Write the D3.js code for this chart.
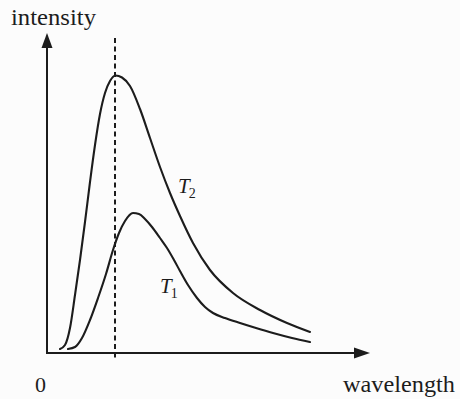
<!DOCTYPE html>
<html>
<head>
<meta charset="utf-8">
<script src="https://cdn.jsdelivr.net/npm/d3@7"></script>
<style>
  html, body { margin: 0; padding: 0; background: #fcfcfc; }
  svg { display: block; }
</style>
</head>
<body>
<div id="chart"></div>
<script>
// ---- data (arbitrary units) ----
const wavelengthT2 = [1.3, 1.8, 2.3, 2.8, 3.3, 3.8, 4.3, 4.8, 5.3, 5.8, 6.3, 6.85, 7.5, 8.3, 9.3, 10.3, 11.3, 12.3, 13.3, 14.6, 16.3, 18.6, 21.3, 24.0, 26.3];
const intensityT2  = [0.4, 0.8, 2.5, 5.8, 9.3, 13.1, 17.1, 20.8, 23.9, 26.0, 27.2, 27.75, 27.55, 26.7, 24.4, 21.5, 18.6, 16.0, 13.7, 11.0, 8.3, 6.0, 4.3, 3.0, 2.1];
const wavelengthT1 = [2.1, 2.8, 3.5, 4.3, 5.1, 5.9, 6.6, 7.2, 7.8, 8.6, 9.2, 9.8, 10.5, 11.3, 12.0, 12.7, 13.3, 14.1, 15.0, 15.8, 16.6, 17.8, 19.3, 20.9, 22.6, 24.5, 26.3];
const intensityT1  = [0.4, 0.6, 1.5, 3.3, 5.5, 7.9, 10.3, 12.0, 13.2, 14.0, 13.9, 13.4, 12.6, 11.5, 10.5, 9.3, 8.2, 6.8, 5.5, 4.6, 4.0, 3.5, 3.0, 2.5, 2.0, 1.5, 1.1];
const peakWavelength = 6.8;
const peakLineExtent = [-0.7, 31.5];
const curveLabels = [
  { name: "T", sub: "2", x: 13.1, y: 16.0 },
  { name: "T", sub: "1", x: 11.3, y: 6.0 }
];
const axisTitles = { y: "intensity", x: "wavelength", origin: "0" };

// ---- layout ----
const W = 460, H = 399;
const x = d3.scaleLinear().domain([0, 32.3]).range([47, 370]);
const y = d3.scaleLinear().domain([0, 32]).range([353, 33]);
const ink = "#1c1c1c";
const serif = "Liberation Serif, Times New Roman, serif";

const svg = d3.select("#chart").append("svg")
  .attr("width", W).attr("height", H);

const xMax = x.domain()[1], yMax = y.domain()[1];

// axes (no ticks)
svg.append("line")
  .attr("x1", x(0)).attr("y1", y(0)).attr("x2", x(0)).attr("y2", y(yMax) + 12)
  .attr("stroke", ink).attr("stroke-width", 2);
svg.append("line")
  .attr("x1", x(0) - 1).attr("y1", y(0)).attr("x2", x(xMax) - 12).attr("y2", y(0))
  .attr("stroke", ink).attr("stroke-width", 2);

// arrow heads
svg.append("path")
  .attr("d", `M${x(0)},${y(yMax)} L${x(0) - 5.5},${y(yMax) + 15} L${x(0) + 5.5},${y(yMax) + 15} Z`)
  .attr("fill", ink);
svg.append("path")
  .attr("d", `M${x(xMax)},${y(0)} L${x(xMax) - 16},${y(0) - 5.5} L${x(xMax) - 16},${y(0) + 5.5} Z`)
  .attr("fill", ink);

// dashed peak line
svg.append("line")
  .attr("x1", x(peakWavelength)).attr("x2", x(peakWavelength))
  .attr("y1", y(peakLineExtent[1])).attr("y2", y(peakLineExtent[0]))
  .attr("stroke", ink).attr("stroke-width", 2)
  .attr("stroke-dasharray", "5,3.5");

// curves
const line = d3.line()
  .x(d => x(d[0])).y(d => y(d[1]))
  .curve(d3.curveMonotoneX);

[[wavelengthT2, intensityT2], [wavelengthT1, intensityT1]].forEach(([xs, ys]) => {
  svg.append("path")
    .datum(d3.zip(xs, ys))
    .attr("d", line)
    .attr("fill", "none").attr("stroke", ink).attr("stroke-width", 2.1)
    .attr("stroke-linecap", "round");
});

// curve labels
curveLabels.forEach(l => {
  const t = svg.append("text")
    .attr("x", x(l.x)).attr("y", y(l.y))
    .attr("font-family", serif)
    .attr("font-size", 21).attr("fill", ink);
  t.append("tspan").attr("font-style", "italic").text(l.name);
  t.append("tspan").attr("font-size", 14).attr("dx", -1).attr("dy", 5).text(l.sub);
});

// axis titles
svg.append("text")
  .attr("x", 11).attr("y", 25)
  .attr("font-family", serif).attr("font-size", 23).attr("fill", ink)
  .attr("textLength", 85).attr("lengthAdjust", "spacingAndGlyphs")
  .text(axisTitles.y);
svg.append("text")
  .attr("x", 343).attr("y", 392)
  .attr("font-family", serif).attr("font-size", 23).attr("fill", ink)
  .attr("textLength", 112).attr("lengthAdjust", "spacingAndGlyphs")
  .text(axisTitles.x);
svg.append("text")
  .attr("x", 35).attr("y", 392)
  .attr("font-family", serif).attr("font-size", 22).attr("fill", ink)
  .text(axisTitles.origin);
</script>
</body>
</html>
